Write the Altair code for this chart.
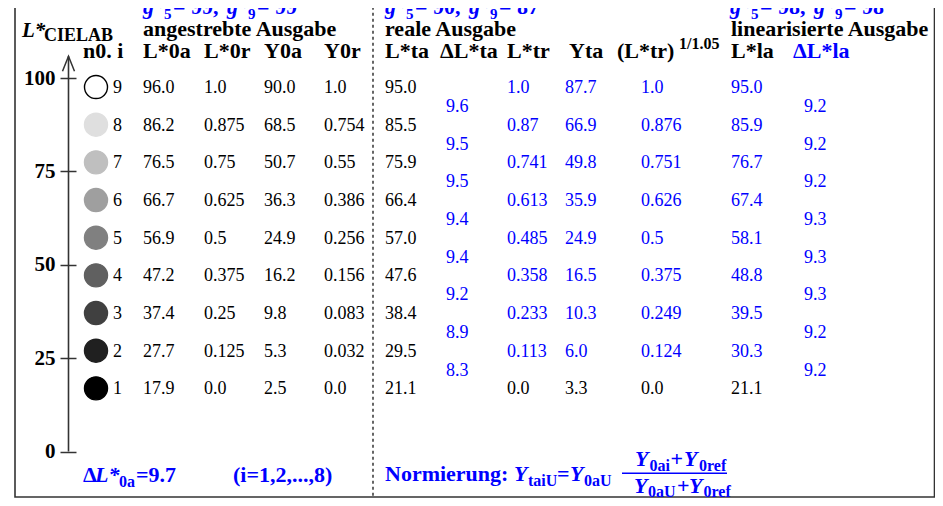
import altair as alt
import pandas as pd

# ---------------- data ----------------
idx = [9, 8, 7, 6, 5, 4, 3, 2, 1]
L0a = ["96.0", "86.2", "76.5", "66.7", "56.9", "47.2", "37.4", "27.7", "17.9"]
L0r = ["1.0", "0.875", "0.75", "0.625", "0.5", "0.375", "0.25", "0.125", "0.0"]
Y0a = ["90.0", "68.5", "50.7", "36.3", "24.9", "16.2", "9.8", "5.3", "2.5"]
Y0r = ["1.0", "0.754", "0.55", "0.386", "0.256", "0.156", "0.083", "0.032", "0.0"]
Lta = ["95.0", "85.5", "75.9", "66.4", "57.0", "47.6", "38.4", "29.5", "21.1"]
dLta = ["9.6", "9.5", "9.5", "9.4", "9.4", "9.2", "8.9", "8.3"]
Ltr = ["1.0", "0.87", "0.741", "0.613", "0.485", "0.358", "0.233", "0.113", "0.0"]
Yta = ["87.7", "66.9", "49.8", "35.9", "24.9", "16.5", "10.3", "6.0", "3.3"]
Ltr105 = ["1.0", "0.876", "0.751", "0.626", "0.5", "0.375", "0.249", "0.124", "0.0"]
Lla = ["95.0", "85.9", "76.7", "67.4", "58.1", "48.8", "39.5", "30.3", "21.1"]
dLla = ["9.2", "9.2", "9.2", "9.3", "9.3", "9.3", "9.2", "9.2"]

headers = ["n0. i", "L*0a", "L*0r", "Y0a", "Y0r", "L*ta", "\u0394L*ta",
           "L*tr", "Yta", "(L*tr)", "L*la", "\u0394L*la"]
header_sup = "1/1.05"
groups = ["angestrebte Ausgabe", "reale Ausgabe", "linearisierte Ausgabe"]
g5 = ["99", "90", "98"]
g9 = ["99", "87", "98"]
yticks = [0, 25, 50, 75, 100]
dL0a = "9.7"
irange = "(i=1,2,...,8)"

# ---------------- layout / style ----------------
BLUE = "#0000ff"
BLACK = "#000000"
FONT = "Liberation Serif"


def LY(Y):
    """reference pixel row -> L* units of the y scale"""
    return (457.0 - Y) / 3.78


def row_L(i):
    return LY(393.0) + 10.085 * (i - 1)


XS = alt.Scale(domain=[8, 935], range=[0, 927])
YS = alt.Scale(domain=[0, 100], range=[443.6, 70.1])
YAX = alt.Axis(values=yticks, orient="left", offset=-68, domain=False, grid=False,
               tickSize=16, tickWidth=1.5, tickColor="#333", labelFont=FONT,
               labelFontSize=21, labelFontWeight="bold", labelColor=BLACK,
               labelPadding=5, title=None, labelOverlap=False, labelFlush=False)


def X(f="px"):
    return alt.X(f"{f}:Q", scale=XS, axis=None)


def Y(f="L"):
    return alt.Y(f"{f}:Q", scale=YS, axis=YAX)


# table cells
cells = []
for k, i in enumerate(idx):
    L = row_L(i)
    c = BLACK if i == 1 else BLUE
    for txt, px, col in [(str(i), 113, BLACK), (L0a[k], 143, BLACK), (L0r[k], 204, BLACK),
                         (Y0a[k], 264, BLACK), (Y0r[k], 324, BLACK), (Lta[k], 385, BLACK),
                         (Ltr[k], 507, c), (Yta[k], 565, c), (Ltr105[k], 641, c),
                         (Lla[k], 731, c)]:
        cells.append(dict(text=txt, px=px, L=L, color=col))
for k in range(8):
    L = (row_L(idx[k]) + row_L(idx[k + 1])) / 2
    cells.append(dict(text=dLta[k], px=446, L=L, color=BLUE))
    cells.append(dict(text=dLla[k], px=804, L=L, color=BLUE))
cells = pd.DataFrame(cells)

circles = []
for k, i in enumerate(idx):
    g = round(float(L0r[k]) * 255)
    fill = "#%02x%02x%02x" % (g, g, g)
    circles.append(dict(px=96, L=row_L(i), fill=fill,
                        stroke=BLACK if i == 9 else fill))
circles = pd.DataFrame(circles)

up, it = [], []


def add(lst, text, px, Yp, size=22, color=BLACK):
    lst.append(dict(text=text, px=px, L=LY(Yp), size=size, color=color))


head_x = [83, 143, 204, 264, 324, 385, 440, 507, 569, 617, 731, 793]
for h, px in zip(headers, head_x):
    add(up, h, px, 59, 22, BLUE if h == headers[-1] else BLACK)
add(up, header_sup, 679, 50, 16)
for gname, px in zip(groups, [143, 385, 731]):
    add(up, gname, px, 36)
add(it, "L*", 22, 37, 21)
add(up, "CIELAB", 44, 41, 18)
GY = 14
for a, b, px in zip(g5, g9, [143, 385, 730]):
    add(it, "g*", px, GY, 22, BLUE)
    add(up, "5", px + 21, GY + 5, 15, BLUE)
    add(up, "= " + a + ",", px + 30, GY, 22, BLUE)
    add(it, "g*", px + 84, GY, 22, BLUE)
    add(up, "9", px + 105, GY + 5, 15, BLUE)
    add(up, "= " + b, px + 114, GY, 22, BLUE)
# bottom left
add(up, "\u0394", 83, 488, 22, BLUE)
add(it, "L*", 95, 488, 22, BLUE)
add(up, "0a", 119, 493, 16, BLUE)
add(up, "=" + dL0a, 136, 488, 22, BLUE)
add(up, irange, 233, 488, 22, BLUE)
# Normierung formula
add(up, "Normierung:", 385, 487, 22, BLUE)
add(it, "Y", 514, 487, 22, BLUE)
add(up, "taiU", 528, 492, 16, BLUE)
add(up, "=", 557, 487, 22, BLUE)
add(it, "Y", 570, 487, 22, BLUE)
add(up, "0aU", 584, 492, 16, BLUE)
NY, DY = 472, 499
add(it, "Y", 635, NY, 22, BLUE)
add(up, "0ai", 649.5, NY + 5, 16, BLUE)
add(up, "+", 670.5, NY, 22, BLUE)
add(it, "Y", 684, NY, 22, BLUE)
add(up, "0ref", 699, NY + 5, 16, BLUE)
add(it, "Y", 634, DY, 22, BLUE)
add(up, "0aU", 648, DY + 4, 16, BLUE)
add(up, "+", 677, DY, 22, BLUE)
add(it, "Y", 689, DY, 22, BLUE)
add(up, "0ref", 703.5, DY + 4, 16, BLUE)
up = pd.DataFrame(up)
it = pd.DataFrame(it)

frame = pd.DataFrame([dict(px=15, px2=934.5, L=LY(-60), L2=LY(503))])
dash = pd.DataFrame([dict(px=373, L=LY(-60), L2=LY(503))])
axline = pd.DataFrame([dict(px=68.5, L=0, L2=LY(57))])
arrow = pd.DataFrame([dict(px=68.5, L=LY(64.5))])
fbar = pd.DataFrame([dict(px=622, px2=727, L=LY(479))])

# ---------------- marks ----------------
l_frame = alt.Chart(frame).mark_rect(filled=False, color="#333", strokeWidth=1.6).encode(
    x=X(), x2=alt.X2("px2:Q"), y=Y(), y2=alt.Y2("L2:Q"))
l_dash = alt.Chart(dash).mark_rule(color=BLACK, strokeWidth=1.2, strokeDash=[3, 3]).encode(
    x=X(), y=Y(), y2=alt.Y2("L2:Q"))
l_axis = alt.Chart(axline).mark_rule(color="#333", strokeWidth=1.6).encode(
    x=X(), y=Y(), y2=alt.Y2("L2:Q"))
l_arrow = alt.Chart(arrow).mark_point(shape="M-0.8,1L0,-1L0.8,1", filled=False, size=225,
                                      strokeWidth=1.5, color="#333", opacity=1).encode(
    x=X(), y=Y())
l_circ = alt.Chart(circles).mark_circle(size=530, opacity=1, strokeWidth=1.4).encode(
    x=X(), y=Y(), color=alt.Color("fill:N", scale=None), stroke=alt.Stroke("stroke:N", scale=None))
l_cells = alt.Chart(cells).mark_text(font=FONT, fontSize=18, align="left",
                                     baseline="alphabetic", dy=6).encode(
    x=X(), y=Y(), text="text:N", color=alt.Color("color:N", scale=None))
l_up = alt.Chart(up).mark_text(font=FONT, fontWeight="bold", align="left",
                               baseline="alphabetic").encode(
    x=X(), y=Y(), text="text:N", size=alt.Size("size:Q", scale=None),
    color=alt.Color("color:N", scale=None))
l_it = alt.Chart(it).mark_text(font=FONT, fontWeight="bold", fontStyle="italic", align="left",
                               baseline="alphabetic").encode(
    x=X(), y=Y(), text="text:N", size=alt.Size("size:Q", scale=None),
    color=alt.Color("color:N", scale=None))
l_fbar = alt.Chart(fbar).mark_rule(color=BLUE, strokeWidth=1.5).encode(
    x=X(), x2=alt.X2("px2:Q"), y=Y())

chart = alt.layer(l_frame, l_dash, l_axis, l_arrow, l_circ, l_cells, l_up, l_it, l_fbar).properties(
    width=927, height=490, padding=0, autosize=alt.AutoSizeParams(type="none"),
    background="#ffffff"
).configure_view(stroke=None)

chart.save("out.html", embed_options={"renderer": "svg", "actions": False})
